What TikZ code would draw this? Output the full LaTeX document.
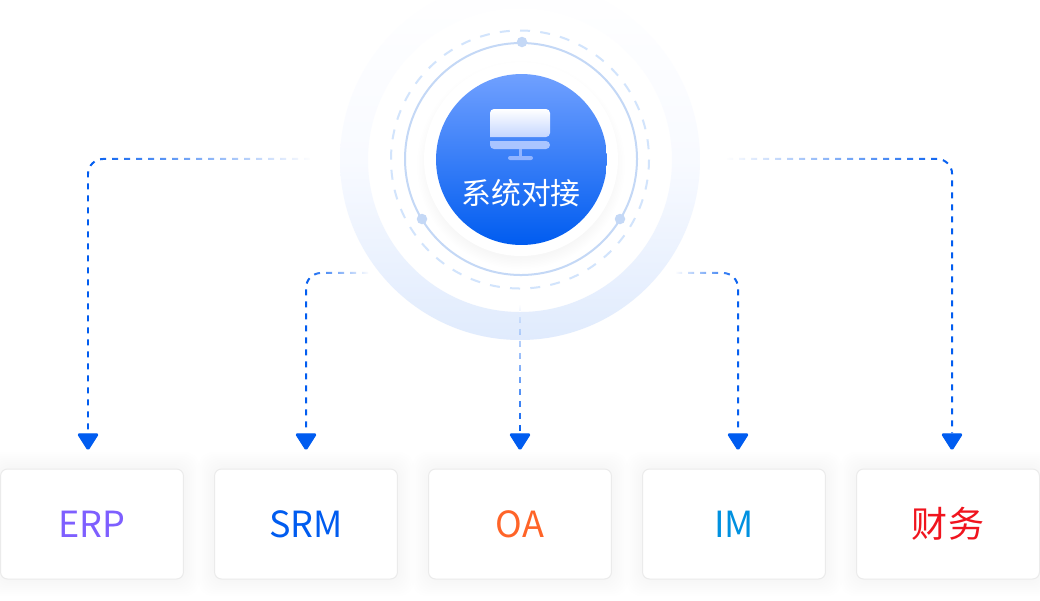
\documentclass[tikz,border=0pt]{standalone}
\usepackage{fontspec}
\setmainfont{Noto Sans CJK SC}
\usepackage{xcolor}
\usetikzlibrary{fadings, shapes.geometric}
\definecolor{linkblue}{RGB}{0, 92, 240}
\definecolor{hubtop}{RGB}{112, 160, 255}
\definecolor{ringpale}{RGB}{196, 216, 246}
\definecolor{dashpale}{RGB}{210, 228, 252}
\definecolor{bandlow}{RGB}{224, 235, 253}
\definecolor{bandmid}{RGB}{248, 250, 255}
\definecolor{screenlow}{RGB}{196, 214, 255}
\definecolor{chinblue}{RGB}{170, 197, 255}
\definecolor{standblue}{RGB}{145, 180, 255}
\definecolor{erpviolet}{RGB}{126, 95, 255}
\definecolor{oaorange}{RGB}{255, 100, 40}
\definecolor{imcyan}{RGB}{0, 145, 224}
\definecolor{cwred}{RGB}{240, 20, 30}
\tikzfading[name=fadeToEast, left color=transparent!0, right color=transparent!100]
\tikzfading[name=fadeToWest, left color=transparent!100, right color=transparent!0]
\tikzfading[name=fadeToNorth, top color=transparent!100, bottom color=transparent!0]
\begin{document}
\begin{tikzpicture}[
    x=0.02cm, y=-0.02cm,
    sysbox/.style={draw=black!8, line width=0.02cm, fill=white, rounded corners=0.14cm,
                   minimum width=3.66cm, minimum height=2.2cm, align=center,
                   font=\fontsize{20.5}{24}\selectfont},
    link/.style={draw=linkblue, line width=0.04cm, dash pattern=on 0.12cm off 0.12cm,
                 rounded corners=0.3cm},
    tipdown/.style={isosceles triangle, isosceles triangle stretches, shape border rotate=-90,
                    draw=linkblue, fill=linkblue, line width=0.02cm, line join=round,
                    rounded corners=0.03cm, inner sep=0pt, minimum width=0.42cm, minimum height=0.33cm},
    knob/.style={circle, fill=ringpale, inner sep=0pt, minimum size=0.21cm}
]
\path[use as bounding box, fill=white] (0,0) rectangle (1040,600);

%% -- Outer ring --
\path[even odd rule, top color=white, bottom color=bandlow, middle color=bandmid]
      (520,160) circle (180) (520,160) circle (152);

%% -- Orbit circles --
\draw[dashpale, line width=0.04cm, dash pattern=on 0.2cm off 0.2054cm] (520,159.5) circle (129);
\draw[ringpale, line width=0.04cm] (521,159) circle (116);
\node[knob] (knobT) at (522,42) {};
\node[knob] (knobL) at (422,219) {};
\node[knob] (knobR) at (620,219) {};

%% -- Hub --
\foreach \g in {1,...,8}
  \fill[black, opacity=0.004] (521,165) circle (92+1.5*\g);
\node[circle, fill=white, inner sep=0pt, minimum size=3.88cm] (halo) at (521,159) {};
\node[circle, top color=hubtop, bottom color=linkblue, inner sep=0pt,
      minimum size=3.42cm] (hub) at (521.5,159.5) {};

%% -- Monitor icon --
\path[top color=white, bottom color=screenlow]
     [rounded corners=0.08cm] (490,137) -- (490,109) -- (550,109) -- (550,137) [sharp corners] -- cycle;
\fill[chinblue] [rounded corners=0.08cm] (490,141) -- (490,149) -- (550,149) -- (550,141) [sharp corners] -- cycle;
\fill[standblue] (518.7,149) rectangle (522.3,157);
\fill[standblue, rounded corners=0.04cm] (508,156) rectangle (533,160);
\node[text=white, font=\fontsize{17}{20}\selectfont] (hubText) at (521,193) {系统对接};

%% -- Box shadows --
\foreach \bx in {92,306,520,734,948}
  \foreach \g in {1,...,8}
    \fill[black, opacity=0.002, rounded corners=0.3cm]
      (\bx-92-2*\g,468-2*\g) rectangle (\bx+92+2*\g,580+2*\g);

%% -- Boxes --
\node[sysbox, text=erpviolet] (erp) at (92,524) {ERP};
\node[sysbox, text=linkblue]  (srm) at (306,524) {SRM};
\node[sysbox, text=oaorange]  (oa)  at (520,524) {OA};
\node[sysbox, text=imcyan]    (im)  at (734,524) {IM};
\node[sysbox, text=cwred]     (cw)  at (948,524) {财务};

%% -- Arrow heads --
\node[tipdown] (tipErp) at (88,439.5) {};
\node[tipdown] (tipSrm) at (306,439.5) {};
\node[tipdown] (tipOa)  at (520,439.5) {};
\node[tipdown] (tipIm)  at (738,439.5) {};
\node[tipdown] (tipCw)  at (952,439.5) {};

%% -- Link ends at the hub --
\coordinate (fromErp) at (310,159);
\coordinate (fromSrm) at (368,273);
\coordinate (fromOa)  at (520,305);
\coordinate (fromIm)  at (676,273);
\coordinate (fromCw)  at (727,159);

%% -- Links --
\draw[link, path fading=fadeToEast] (fromErp) -| (tipErp.north);
\draw[link, path fading=fadeToEast] (fromSrm) -| (tipSrm.north);
\draw[link, path fading=fadeToNorth] (fromOa) -- (tipOa.north);
\draw[link, path fading=fadeToWest] (fromIm) -| (tipIm.north);
\draw[link, path fading=fadeToWest] (fromCw) -| (tipCw.north);
\end{tikzpicture}
\end{document}
